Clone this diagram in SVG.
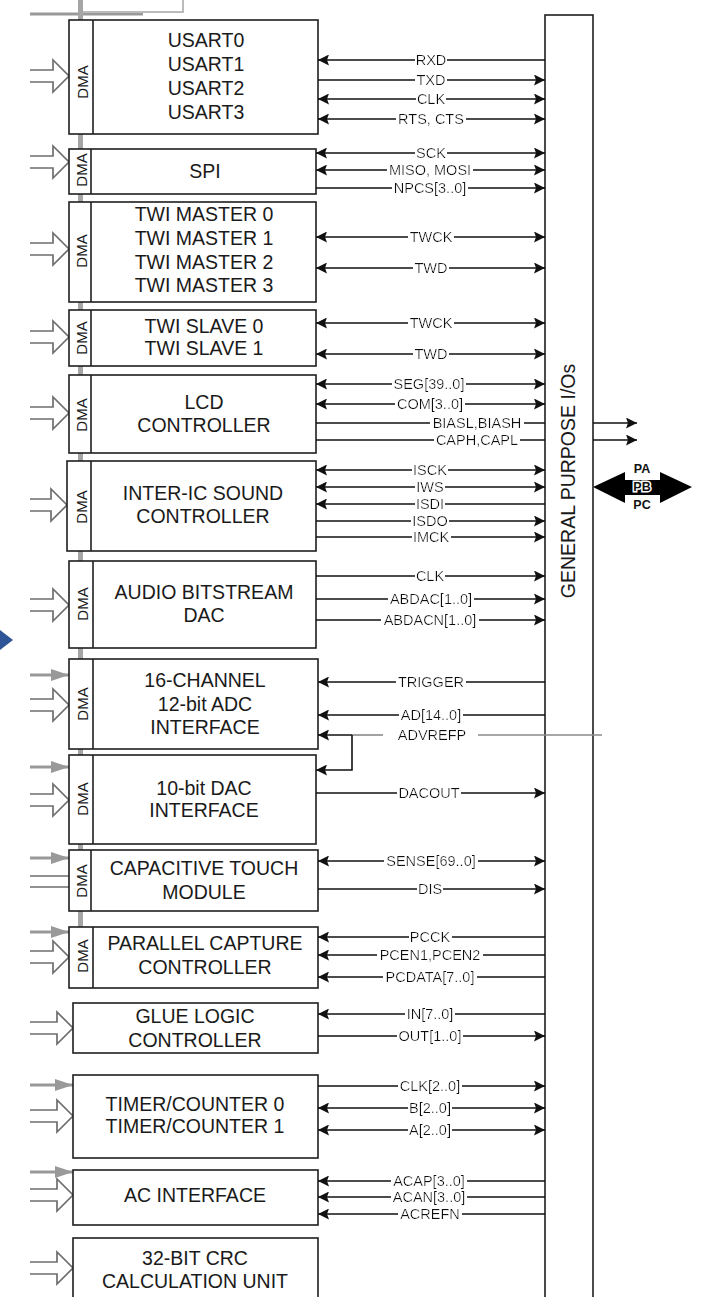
<svg xmlns="http://www.w3.org/2000/svg" width="711" height="1297" viewBox="0 0 711 1297">
<style>
.box{fill:#fff;stroke:#1e1e1e;stroke-width:1.6}
.div{stroke:#1e1e1e;stroke-width:1.6}
.t{font-family:"Liberation Sans",Arial,sans-serif;font-size:19.5px;fill:#1a1a1a;text-anchor:middle}
.dma{font-family:"Liberation Sans",Arial,sans-serif;font-size:15px;fill:#1a1a1a;text-anchor:middle}
.sig{font-family:"Liberation Sans",Arial,sans-serif;font-size:14.5px;fill:#111;text-anchor:middle;filter:url(#bg)}
.ln{stroke:#111;stroke-width:1.6;fill:none}
.gl{stroke:#8a8a8a;stroke-width:1.6;fill:none}
.fat{fill:none;stroke:#6e6e6e;stroke-width:1.7}
.ga{stroke:#999;stroke-width:3;fill:none}
</style>
<defs>
<filter id="bg" x="-0.02" y="0" width="1.04" height="1">
<feFlood flood-color="#ffffff"/>
<feComposite in="SourceGraphic" operator="over"/>
</filter>
<marker id="a" markerUnits="userSpaceOnUse" markerWidth="12" markerHeight="11" refX="11" refY="5.5" orient="auto-start-reverse">
<path d="M0,0 L11,5.5 L0,11 L2,5.5 z" fill="#111"/>
</marker>
<marker id="g" markerUnits="userSpaceOnUse" markerWidth="18" markerHeight="12" refX="18" refY="6" orient="auto">
<path d="M0,0 L18,6 L0,12 z" fill="#999"/>
</marker>
</defs>

<g id="bus">
<polyline points="30,14 143,14" stroke="#999" stroke-width="3" fill="none"/>
<polyline points="80,12 183,12 183,0" stroke="#bbb" stroke-width="2" fill="none"/>
<rect x="78" y="0" width="5" height="988" fill="#a5a5a5"/>
<polygon points="0,630 13,640 0,650" fill="#2f5597"/>
</g>

<g id="inputs">
<path class="fat" d="M30,70 H53 V60 L69,76 L53,92 V82 H30"/>
<path class="fat" d="M30,156 H53 V146 L69,162 L53,178 V168 H30"/>
<path class="fat" d="M30,243 H53 V233 L69,249 L53,265 V255 H30"/>
<path class="fat" d="M30,331 H53 V321 L69,337 L53,353 V343 H30"/>
<path class="fat" d="M30,407 H53 V397 L69,413 L53,429 V419 H30"/>
<path class="fat" d="M30,499 H51 V489 L67,505 L51,521 V511 H30"/>
<path class="fat" d="M30,599 H53 V589 L69,605 L53,621 V611 H30"/>
<path class="fat" d="M30,699 H53 V689 L69,705 L53,721 V711 H30"/>
<path class="fat" d="M30,794 H53 V784 L69,800 L53,816 V806 H30"/>
<path class="fat" d="M30,876 H69 M30,887 H69"/>
<path class="fat" d="M30,951 H53 V941 L69,957 L53,973 V963 H30"/>
<path class="fat" d="M30,1022 H57 V1012 L73,1028 L57,1044 V1034 H30"/>
<path class="fat" d="M30,1110 H57 V1100 L73,1116 L57,1132 V1122 H30"/>
<path class="fat" d="M30,1189 H57 V1179 L73,1195 L57,1211 V1201 H30"/>
<path class="fat" d="M30,1262 H57 V1252 L73,1268 L57,1284 V1274 H30"/>
<line class="ga" x1="30" y1="675" x2="69" y2="675" marker-end="url(#g)"/>
<line class="ga" x1="30" y1="767" x2="69" y2="767" marker-end="url(#g)"/>
<line class="ga" x1="30" y1="858" x2="69" y2="858" marker-end="url(#g)"/>
<line class="ga" x1="30" y1="932" x2="69" y2="932" marker-end="url(#g)"/>
<line class="ga" x1="30" y1="1085" x2="73" y2="1085" marker-end="url(#g)"/>
<line class="ga" x1="30" y1="1172" x2="73" y2="1172" marker-end="url(#g)"/>
</g>

<g id="usart">
<rect class="box" x="69" y="20" width="249" height="114"/>
<line class="div" x1="93" y1="20" x2="93" y2="134"/>
<text class="dma" transform="translate(88,82) rotate(-90)">DMA</text>
<text class="t" x="206" y="47">USART0</text>
<text class="t" x="206" y="71">USART1</text>
<text class="t" x="206" y="95">USART2</text>
<text class="t" x="206" y="119">USART3</text>
</g>
<g id="spi">
<rect class="box" x="69" y="149" width="247" height="45"/>
<line class="div" x1="91" y1="149" x2="91" y2="194"/>
<text class="dma" transform="translate(87,170) rotate(-90)">DMA</text>
<text class="t" x="205" y="178">SPI</text>
</g>
<g id="twim">
<rect class="box" x="69" y="202" width="247" height="100"/>
<line class="div" x1="91" y1="202" x2="91" y2="302"/>
<text class="dma" transform="translate(87,251) rotate(-90)">DMA</text>
<text class="t" x="204" y="221">TWI MASTER 0</text>
<text class="t" x="204" y="245">TWI MASTER 1</text>
<text class="t" x="204" y="269">TWI MASTER 2</text>
<text class="t" x="204" y="292">TWI MASTER 3</text>
</g>
<g id="twis">
<rect class="box" x="69" y="310" width="247" height="56"/>
<line class="div" x1="91" y1="310" x2="91" y2="366"/>
<text class="dma" transform="translate(87,338) rotate(-90)">DMA</text>
<text class="t" x="204" y="333">TWI SLAVE 0</text>
<text class="t" x="204" y="355">TWI SLAVE 1</text>
</g>
<g id="lcd">
<rect class="box" x="69" y="375" width="247" height="78"/>
<line class="div" x1="91" y1="375" x2="91" y2="453"/>
<text class="dma" transform="translate(87,415) rotate(-90)">DMA</text>
<text class="t" x="204" y="409">LCD</text>
<text class="t" x="204" y="432">CONTROLLER</text>
</g>
<g id="i2s">
<rect class="box" x="67" y="461" width="249" height="90"/>
<line class="div" x1="91" y1="461" x2="91" y2="551"/>
<text class="dma" transform="translate(87,507) rotate(-90)">DMA</text>
<text class="t" x="203" y="500">INTER-IC SOUND</text>
<text class="t" x="203" y="523">CONTROLLER</text>
</g>
<g id="abdac">
<rect class="box" x="69" y="561" width="247" height="87"/>
<line class="div" x1="93" y1="561" x2="93" y2="648"/>
<text class="dma" transform="translate(88,604) rotate(-90)">DMA</text>
<text class="t" x="204" y="599">AUDIO BITSTREAM</text>
<text class="t" x="204" y="622">DAC</text>
</g>
<g id="adc">
<rect class="box" x="69" y="659" width="249" height="90"/>
<line class="div" x1="93" y1="659" x2="93" y2="749"/>
<text class="dma" transform="translate(88,704) rotate(-90)">DMA</text>
<text class="t" x="205" y="687">16-CHANNEL</text>
<text class="t" x="205" y="711">12-bit ADC</text>
<text class="t" x="205" y="734">INTERFACE</text>
</g>
<g id="dac">
<rect class="box" x="69" y="755" width="247" height="89"/>
<line class="div" x1="93" y1="755" x2="93" y2="844"/>
<text class="dma" transform="translate(88,799) rotate(-90)">DMA</text>
<text class="t" x="204" y="795">10-bit DAC</text>
<text class="t" x="204" y="817">INTERFACE</text>
</g>
<g id="touch">
<rect class="box" x="69" y="850" width="249" height="61"/>
<line class="div" x1="91" y1="850" x2="91" y2="911"/>
<text class="dma" transform="translate(87,881) rotate(-90)">DMA</text>
<text class="t" x="204" y="875">CAPACITIVE TOUCH</text>
<text class="t" x="204" y="899">MODULE</text>
</g>
<g id="pcc">
<rect class="box" x="69" y="927" width="249" height="61"/>
<line class="div" x1="93" y1="927" x2="93" y2="988"/>
<text class="dma" transform="translate(88,956) rotate(-90)">DMA</text>
<text class="t" x="205" y="950">PARALLEL CAPTURE</text>
<text class="t" x="205" y="974">CONTROLLER</text>
</g>
<g id="glue">
<rect class="box" x="73" y="1003" width="245" height="50"/>
<text class="t" x="195" y="1023">GLUE LOGIC</text>
<text class="t" x="195" y="1047">CONTROLLER</text>
</g>
<g id="tc">
<rect class="box" x="73" y="1075" width="245" height="83"/>
<text class="t" x="195" y="1111">TIMER/COUNTER 0</text>
<text class="t" x="195" y="1133">TIMER/COUNTER 1</text>
</g>
<g id="ac">
<rect class="box" x="73" y="1170" width="245" height="55"/>
<text class="t" x="195" y="1202">AC INTERFACE</text>
</g>
<g id="crc">
<rect class="box" x="73" y="1238" width="245" height="70"/>
<text class="t" x="195" y="1265">32-BIT CRC</text>
<text class="t" x="195" y="1288">CALCULATION UNIT</text>
</g>
<g id="gpio">
<rect class="box" x="545" y="15" width="48" height="1295"/>
<text class="t" transform="translate(575,481) rotate(-90)">GENERAL PURPOSE I/Os</text>
</g>
<g id="ports">
<polygon points="593,487 625,472 625,480 660,480 660,472 692,487 660,503 660,495 625,495 625,503" fill="#000"/>
<text x="642" y="473" font-family="Liberation Sans, Arial, sans-serif" font-size="12.5" font-weight="bold" text-anchor="middle" fill="#111">PA</text>
<text x="642" y="491" font-family="Liberation Sans, Arial, sans-serif" font-size="12.5" font-weight="bold" text-anchor="middle" fill="#111" stroke="#fff" stroke-width="3" paint-order="stroke">PB</text>
<text x="642" y="509" font-family="Liberation Sans, Arial, sans-serif" font-size="12.5" font-weight="bold" text-anchor="middle" fill="#111">PC</text>
</g>

<g id="connectors">
<line class="ln" x1="318" y1="60" x2="545" y2="60" marker-start="url(#a)"/>
<line class="ln" x1="318" y1="80" x2="545" y2="80" marker-end="url(#a)"/>
<line class="ln" x1="318" y1="99" x2="545" y2="99" marker-start="url(#a)" marker-end="url(#a)"/>
<line class="ln" x1="318" y1="119" x2="545" y2="119" marker-start="url(#a)" marker-end="url(#a)"/>
<line class="ln" x1="316" y1="153" x2="545" y2="153" marker-start="url(#a)" marker-end="url(#a)"/>
<line class="ln" x1="316" y1="170" x2="545" y2="170" marker-start="url(#a)" marker-end="url(#a)"/>
<line class="ln" x1="316" y1="188" x2="545" y2="188" marker-end="url(#a)"/>
<line class="ln" x1="316" y1="237" x2="545" y2="237" marker-start="url(#a)" marker-end="url(#a)"/>
<line class="ln" x1="316" y1="268" x2="545" y2="268" marker-start="url(#a)" marker-end="url(#a)"/>
<line class="ln" x1="316" y1="323" x2="545" y2="323" marker-start="url(#a)" marker-end="url(#a)"/>
<line class="ln" x1="316" y1="354" x2="545" y2="354" marker-start="url(#a)" marker-end="url(#a)"/>
<line class="ln" x1="316" y1="384" x2="545" y2="384" marker-start="url(#a)" marker-end="url(#a)"/>
<line class="ln" x1="316" y1="404" x2="545" y2="404" marker-start="url(#a)" marker-end="url(#a)"/>
<line class="ln" x1="316" y1="423" x2="545" y2="423"/>
<line class="ln" x1="316" y1="440" x2="545" y2="440"/>
<line class="ln" x1="593" y1="423" x2="637" y2="423" marker-end="url(#a)"/>
<line class="ln" x1="593" y1="440" x2="637" y2="440" marker-end="url(#a)"/>
<line class="ln" x1="316" y1="470" x2="545" y2="470" marker-start="url(#a)" marker-end="url(#a)"/>
<line class="ln" x1="316" y1="487" x2="545" y2="487" marker-start="url(#a)" marker-end="url(#a)"/>
<line class="ln" x1="316" y1="504" x2="545" y2="504" marker-start="url(#a)"/>
<line class="ln" x1="316" y1="521" x2="545" y2="521" marker-end="url(#a)"/>
<line class="ln" x1="316" y1="537" x2="545" y2="537" marker-end="url(#a)"/>
<line class="ln" x1="316" y1="576" x2="545" y2="576" marker-end="url(#a)"/>
<line class="ln" x1="316" y1="599" x2="545" y2="599" marker-end="url(#a)"/>
<line class="ln" x1="316" y1="620" x2="545" y2="620" marker-end="url(#a)"/>
<line class="ln" x1="318" y1="682" x2="545" y2="682" marker-start="url(#a)"/>
<line class="ln" x1="318" y1="715" x2="545" y2="715" marker-start="url(#a)"/>
<line class="gl" x1="478" y1="735" x2="602" y2="735"/>
<line class="gl" x1="352" y1="735" x2="383" y2="735"/>
<line class="ln" x1="352" y1="735" x2="318" y2="735" marker-end="url(#a)"/>
<path class="ln" d="M352,735 V770 H316" marker-end="url(#a)"/>
<line class="ln" x1="316" y1="793" x2="545" y2="793" marker-end="url(#a)"/>
<line class="ln" x1="318" y1="861" x2="545" y2="861" marker-start="url(#a)" marker-end="url(#a)"/>
<line class="ln" x1="318" y1="889" x2="545" y2="889" marker-end="url(#a)"/>
<line class="ln" x1="318" y1="937" x2="545" y2="937" marker-start="url(#a)"/>
<line class="ln" x1="318" y1="955" x2="545" y2="955" marker-start="url(#a)"/>
<line class="ln" x1="318" y1="977" x2="545" y2="977" marker-start="url(#a)"/>
<line class="ln" x1="318" y1="1014" x2="545" y2="1014" marker-start="url(#a)"/>
<line class="ln" x1="318" y1="1036" x2="545" y2="1036" marker-end="url(#a)"/>
<line class="ln" x1="318" y1="1086" x2="545" y2="1086" marker-end="url(#a)"/>
<line class="ln" x1="318" y1="1108" x2="545" y2="1108" marker-start="url(#a)" marker-end="url(#a)"/>
<line class="ln" x1="318" y1="1130" x2="545" y2="1130" marker-start="url(#a)" marker-end="url(#a)"/>
<line class="ln" x1="318" y1="1181" x2="545" y2="1181" marker-start="url(#a)"/>
<line class="ln" x1="318" y1="1197" x2="545" y2="1197" marker-start="url(#a)"/>
<line class="ln" x1="318" y1="1214" x2="545" y2="1214" marker-start="url(#a)"/>

<text class="sig" x="431" y="65">RXD</text>
<text class="sig" x="431" y="85">TXD</text>
<text class="sig" x="431" y="104">CLK</text>
<text class="sig" x="431" y="124">RTS, CTS</text>
<text class="sig" x="431" y="158">SCK</text>
<text class="sig" x="430" y="175">MISO, MOSI</text>
<text class="sig" x="430" y="193">NPCS[3..0]</text>
<text class="sig" x="431" y="242">TWCK</text>
<text class="sig" x="431" y="273">TWD</text>
<text class="sig" x="431" y="328">TWCK</text>
<text class="sig" x="431" y="359">TWD</text>
<text class="sig" x="429" y="389">SEG[39..0]</text>
<text class="sig" x="430" y="409">COM[3..0]</text>
<text class="sig" x="477" y="428">BIASL,BIASH</text>
<text class="sig" x="477" y="445">CAPH,CAPL</text>
<text class="sig" x="430" y="475">ISCK</text>
<text class="sig" x="430" y="492">IWS</text>
<text class="sig" x="430" y="509">ISDI</text>
<text class="sig" x="430" y="526">ISDO</text>
<text class="sig" x="431" y="542">IMCK</text>
<text class="sig" x="430" y="581">CLK</text>
<text class="sig" x="431" y="604">ABDAC[1..0]</text>
<text class="sig" x="430" y="625">ABDACN[1..0]</text>
<text class="sig" x="431" y="687">TRIGGER</text>
<text class="sig" x="431" y="720">AD[14..0]</text>
<text class="sig" x="432" y="740">ADVREFP</text>
<text class="sig" x="429" y="798">DACOUT</text>
<text class="sig" x="431" y="866">SENSE[69..0]</text>
<text class="sig" x="430" y="894">DIS</text>
<text class="sig" x="430" y="942">PCCK</text>
<text class="sig" x="430" y="960">PCEN1,PCEN2</text>
<text class="sig" x="430" y="982">PCDATA[7..0]</text>
<text class="sig" x="430" y="1019">IN[7..0]</text>
<text class="sig" x="430" y="1041">OUT[1..0]</text>
<text class="sig" x="430" y="1091">CLK[2..0]</text>
<text class="sig" x="430" y="1113">B[2..0]</text>
<text class="sig" x="430" y="1135">A[2..0]</text>
<text class="sig" x="429" y="1186">ACAP[3..0]</text>
<text class="sig" x="429" y="1202">ACAN[3..0]</text>
<text class="sig" x="430" y="1219">ACREFN</text>
</g>
</svg>
